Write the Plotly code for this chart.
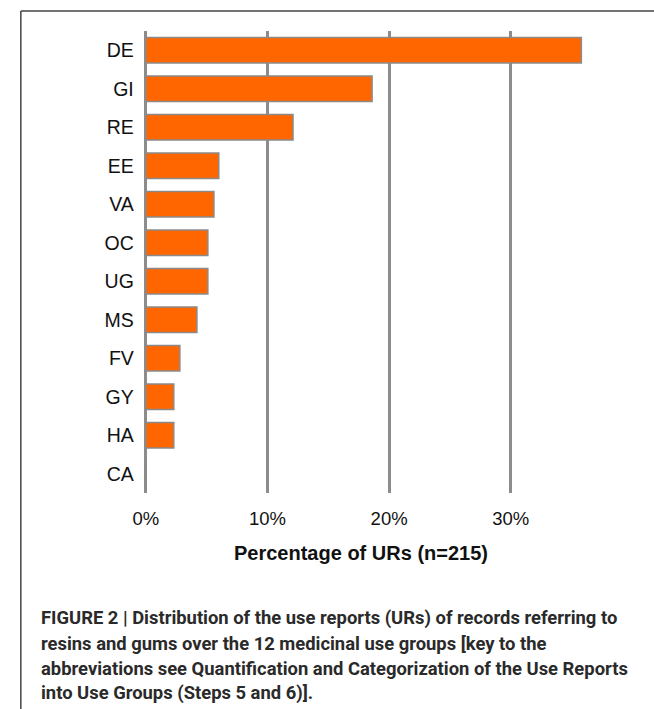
import plotly.graph_objects as go

categories = ["DE", "GI", "RE", "EE", "VA", "OC", "UG", "MS", "FV", "GY", "HA", "CA"]
percentages = [35.8, 18.6, 12.1, 6.0, 5.6, 5.1, 5.1, 4.2, 2.8, 2.3, 2.3, 0.0]
tick_values = [0, 10, 20, 30]
tick_labels = ["0%", "10%", "20%", "30%"]
x_title = "Percentage of URs (n=215)"
caption_lines = [
    "FIGURE 2 | Distribution of the use reports (URs) of records referring to",
    "resins and gums over the 12 medicinal use groups [key to the",
    "abbreviations see Quantification and Categorization of the Use Reports",
    "into Use Groups (Steps 5 and 6)].",
]

W, H = 654, 709
FONT = "Liberation Sans, Arial, Helvetica, sans-serif"
CAP_FONT = "Roboto, Liberation Sans, Arial, sans-serif"

def px(x):
    return x / W

def py(y):
    return 1 - y / H

fig = go.Figure()
fig.add_trace(go.Bar(
    x=percentages,
    y=categories,
    orientation="h",
    width=0.66,
    marker=dict(color="#FF6600", line=dict(color="#8a8a8a", width=1.5)),
    hoverinfo="x+y",
))

fig.update_layout(
    width=W, height=H,
    margin=dict(l=0, r=0, t=0, b=0),
    paper_bgcolor="white",
    plot_bgcolor="white",
    showlegend=False,
    font=dict(family=FONT, color="#111111"),
    xaxis=dict(
        domain=[px(135.5), px(632)],
        range=[0, 40],
        tickvals=tick_values,
        ticktext=tick_labels,
        showgrid=True,
        gridcolor="#8c8c8c",
        gridwidth=3,
        zeroline=True,
        zerolinecolor="#8c8c8c",
        zerolinewidth=3,
        showline=False,
        ticks="",
        tickfont=dict(size=18.5, family=FONT, color="#111111"),
        ticklabelstandoff=12,
        fixedrange=True,
    ),
    yaxis=dict(
        domain=[py(493), py(31)],
        categoryorder="array",
        categoryarray=categories,
        autorange="reversed",
        showgrid=False,
        zeroline=False,
        showline=False,
        ticks="",
        tickfont=dict(size=19.5, family=FONT, color="#111111"),
        ticklabelstandoff=11,
        fixedrange=True,
    ),
)

annotations = [
    dict(
        text="<b>" + x_title + "</b>",
        x=px(355), y=py(553), xref="paper", yref="paper",
        xanchor="center", yanchor="middle", showarrow=False,
        font=dict(size=20, family=FONT, color="#111111"),
    )
]
cap_y = [618, 643, 668, 693]
for line, yy in zip(caption_lines, cap_y):
    annotations.append(dict(
        text="<b>" + line + "</b>",
        x=px(27), y=py(yy), xref="paper", yref="paper",
        xanchor="left", yanchor="middle", showarrow=False,
        font=dict(size=18.4, family=CAP_FONT, color="#2a2a2a"),
    ))
fig.update_layout(annotations=annotations)

fig.add_shape(type="line", xref="paper", yref="paper",
              x0=px(8), x1=1, y0=py(11), y1=py(11),
              line=dict(color="#444444", width=1.5))
fig.add_shape(type="line", xref="paper", yref="paper",
              x0=px(8), x1=px(8), y0=py(11), y1=0,
              line=dict(color="#444444", width=1.5))

fig.write_html(
    "out.html",
    config={"displayModeBar": False},
    post_script="document.body.style.margin='0';document.body.style.overflow='hidden';",
)
